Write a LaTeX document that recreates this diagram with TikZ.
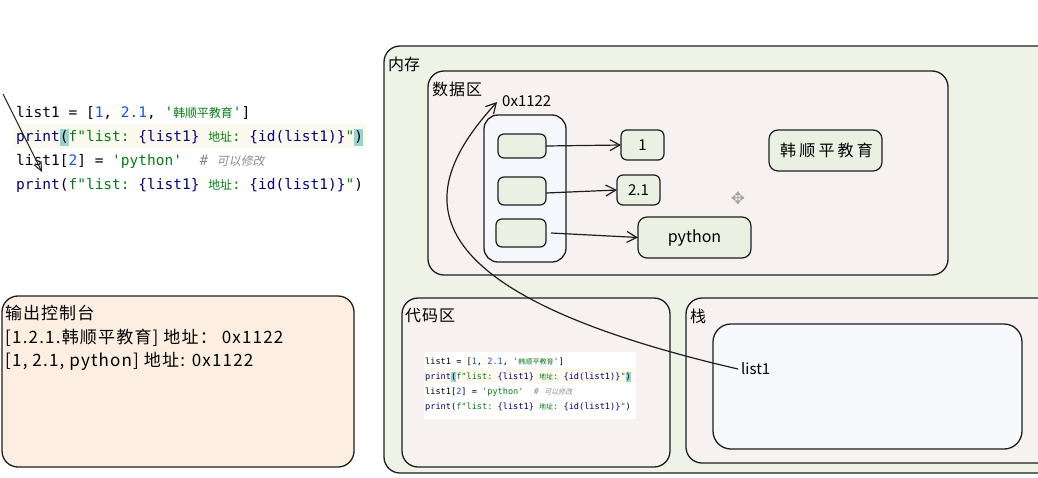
\documentclass[tikz,border=0pt]{standalone}
\usepackage{fontspec}
\setmainfont{Noto Sans CJK SC}
\newfontfamily\codefont{DejaVu Sans Mono}
\newfontfamily\cjkcode[Scale=0.82]{Noto Sans CJK SC}
\newfontfamily\cjkcodeit[Scale=0.82,FakeSlant=0.2]{Noto Sans CJK SC}
\newfontfamily\symfont{DejaVu Sans}
\usetikzlibrary{arrows.meta}

\definecolor{memfill}{RGB}{238,242,231}
\definecolor{areafill}{RGB}{247,242,241}
\definecolor{listfill}{RGB}{245,247,252}
\definecolor{cellfill}{RGB}{234,240,226}
\definecolor{consolefill}{RGB}{253,238,226}
\definecolor{stackfill}{RGB}{247,249,253}
\definecolor{kwblue}{RGB}{0,0,128}
\definecolor{numblue}{RGB}{23,80,235}
\definecolor{strgreen}{RGB}{6,125,23}
\definecolor{cmtgray}{RGB}{140,140,140}
\definecolor{hlcyan}{RGB}{150,212,212}
\definecolor{linebg}{RGB}{252,250,238}
\definecolor{inkline}{RGB}{30,30,30}

% syntax-highlighted source lines
\newcommand\hlparen[1]{{\setlength{\fboxsep}{0pt}\colorbox{hlcyan}{\strut #1}}}
\newcommand\srcA{list1 = [\textcolor{numblue}{1}, \textcolor{numblue}{2.1}, \textcolor{strgreen}{'{\cjkcode 韩顺平教育}'}]}
\newcommand\srcB{\textcolor{kwblue}{print}\hlparen{(}\textcolor{strgreen}{f"list:\ }\textcolor{kwblue}{\{list1\}}\textcolor{strgreen}{\ {\cjkcode 地址}:\ }\textcolor{kwblue}{\{id(list1)\}}\textcolor{strgreen}{"}\hlparen{)}}
\newcommand\srcC{list1[\textcolor{numblue}{2}] = \textcolor{strgreen}{'python'}\ \ \textcolor{cmtgray}{\itshape\# {\cjkcodeit 可以修改}}}
\newcommand\srcD{\textcolor{kwblue}{print}(\textcolor{strgreen}{f"list:\ }\textcolor{kwblue}{\{list1\}}\textcolor{strgreen}{\ {\cjkcode 地址}:\ }\textcolor{kwblue}{\{id(list1)\}}\textcolor{strgreen}{"})}

\begin{document}
\begin{tikzpicture}[x=1pt,y=-1pt,
  region/.style={draw=inkline, line width=1.3pt, rounded corners=16pt, anchor=north west, inner sep=0pt, outer sep=0pt},
  cell/.style={draw=inkline, line width=1.2pt, rounded corners=6pt, fill=cellfill, anchor=north west, inner sep=0pt, outer sep=0pt},
  lbl/.style={anchor=west, inner sep=0pt, font=\fontsize{16}{18}\selectfont},
  outline/.style={anchor=west, inner sep=0pt, font=\fontsize{17}{19}\selectfont\addfontfeatures{LetterSpace=7}},
  code/.style={anchor=base west, inner sep=0pt, font=\codefont\fontsize{14.5}{17}\selectfont},
  smallcode/.style={anchor=base west, inner sep=0pt, font=\codefont\fontsize{8.6}{10}\selectfont},
  conn/.style={draw=inkline, line width=1.2pt, -{Straight Barb[length=10pt,width=11pt]}},
]
\useasboundingbox (0,0) rectangle (1038,477);
\clip (0,0) rectangle (1038,477);
\fill[white] (0,0) rectangle (1038,477);

% ---- source code (top left)
\fill[linebg] (14,124) rectangle (366,148);
\node[code] (l1) at (16,117) {\srcA};
\node[code] (l2) at (16,141) {\srcB};
\node[code] (l3) at (16,165) {\srcC};
\node[code] (l4) at (16,189) {\srcD};
\coordinate (pS) at (3,94);
\coordinate (pE) at (42,172);
\draw[conn, line width=1pt, -{Straight Barb[length=9pt,width=8pt]}] (pS) -- (pE);

% ---- output console
\node[region, fill=consolefill, minimum width=352, minimum height=171] (console) at (2,296) {};
\node[lbl, font=\fontsize{17}{19}\selectfont\addfontfeatures{LetterSpace=6}] (ctitle) at (5,313) {输出控制台};
\node[outline] (out1) at (5,338) {[1.2.1.韩顺平教育] 地址： 0x1122};
\node[outline] (out2) at (5,361) {[1, 2.1, python] 地址: 0x1122};

% ---- memory
\node[region, fill=memfill, minimum width=680, minimum height=427] (mem) at (384,46) {};
\node[lbl] (memt) at (388,64) {内存};

% data area
\node[region, fill=areafill, minimum width=520, minimum height=204] (data) at (428,71) {};
\node[lbl, font=\fontsize{16}{18}\selectfont\addfontfeatures{LetterSpace=6}] (datat) at (432,89) {数据区};
\node[lbl, font=\fontsize{15}{17}\selectfont] (addr) at (502,101) {0x1122};

\node[region, fill=listfill, rounded corners=14pt, minimum width=82, minimum height=147] (lst) at (484,115) {};
\node[cell, minimum width=48, minimum height=24] (s1) at (498,134) {};
\node[cell, minimum width=48, minimum height=28] (s2) at (498,177) {};
\node[cell, minimum width=50, minimum height=28] (s3) at (496,219) {};

\node[cell, minimum width=43, minimum height=30] (v1) at (621,130) {};
\node[font=\fontsize{15}{17}\selectfont] at (v1.center) {1};
\node[cell, minimum width=43, minimum height=30] (v2) at (617,175) {};
\node[font=\fontsize{15}{17}\selectfont] at (v2.center) {2.1};
\node[cell, rounded corners=9pt, minimum width=113, minimum height=41] (vpy) at (638,217) {};
\node[font=\fontsize{16}{18}\selectfont] at (vpy.center) {python};
\node[cell, rounded corners=9pt, minimum width=113, minimum height=41] (vhan) at (769,130) {};
\node[font=\fontsize{16}{18}\selectfont\addfontfeatures{LetterSpace=20}] at ([xshift=1pt]vhan.center) {韩顺平教育};

\node[text=gray!70, font=\symfont\fontsize{17}{19}\selectfont] (cursor) at (738,198) {✥};

\draw[conn] (s1.east) -- (v1.west);
\draw[conn] ([yshift=-2pt]s2.east) -- (v2.west);
\draw[conn] ([xshift=5pt]s3.east) -- (vpy.west);

% code area
\node[region, fill=areafill, minimum width=268, minimum height=169] (codearea) at (402,298) {};
\node[lbl, font=\fontsize{16}{18}\selectfont\addfontfeatures{LetterSpace=6}] (codet) at (405,316) {代码区};
\fill[white] (424,352) rectangle (636,419);
\fill[linebg] (424,368) rectangle (636,383);
\node[smallcode] (c1) at (425,364) {\srcA};
\node[smallcode] (c2) at (425,379) {\srcB};
\node[smallcode] (c3) at (425,394) {\srcC};
\node[smallcode] (c4) at (425,409) {\srcD};

% stack
\node[region, fill=areafill, minimum width=370, minimum height=165] (stack) at (686,298) {};
\node[lbl] (stackt) at (690,316) {栈};
\node[region, fill=stackfill, rounded corners=18pt, minimum width=309, minimum height=125] (frame) at (713,324) {};
\node[lbl, font=\fontsize{15}{17}\selectfont] (var) at (741,369) {list1};

% reference from the stack variable to the list object
\draw[conn] ([xshift=-3pt]var.west) .. controls (375,285) and (428,178) .. ([xshift=-5pt,yshift=-1pt]addr.west);
\end{tikzpicture}
\end{document}
